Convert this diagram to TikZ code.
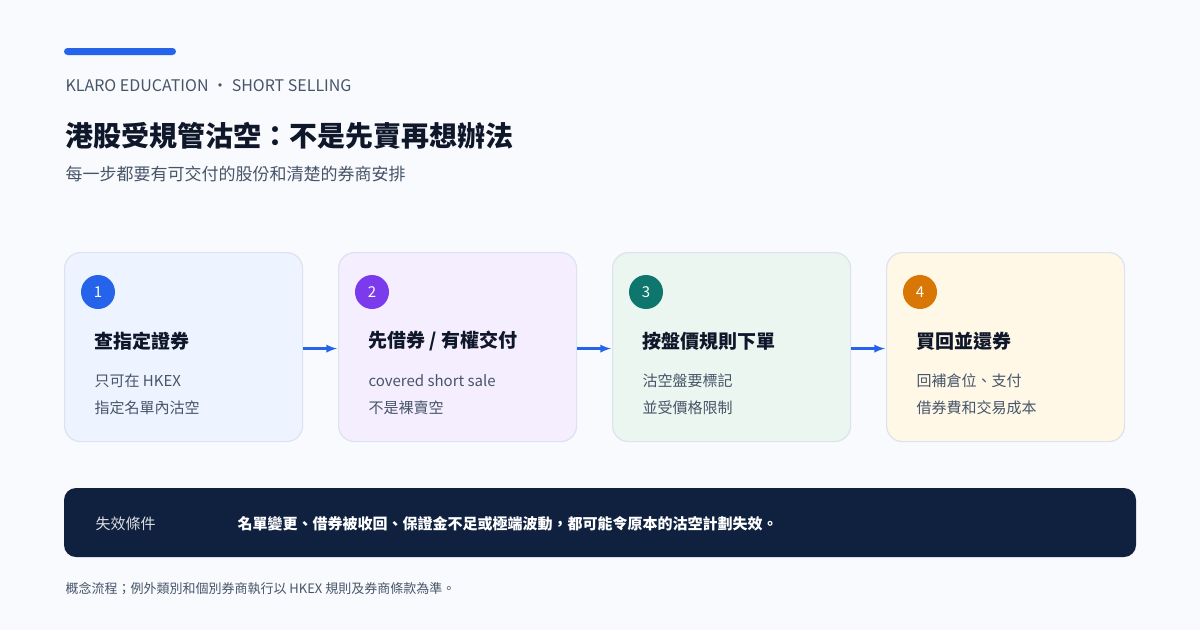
\documentclass[tikz,border=0pt]{standalone}
\usepackage{fontspec}
\setmainfont{Noto Sans CJK TC}
\usetikzlibrary{positioning}
\definecolor{bgpage}{HTML}{F8FAFD}
\definecolor{ink}{HTML}{0F172A}
\definecolor{muted}{HTML}{475569}
\definecolor{accent}{HTML}{2563EB}
\definecolor{cardline}{HTML}{DCE3EE}
\definecolor{fillA}{HTML}{EEF4FF}
\definecolor{fillB}{HTML}{F5EEFE}
\definecolor{fillC}{HTML}{EAF6EF}
\definecolor{fillD}{HTML}{FFF8E7}
\definecolor{dotA}{HTML}{2563EB}
\definecolor{dotB}{HTML}{7C3AED}
\definecolor{dotC}{HTML}{0F766E}
\definecolor{dotD}{HTML}{D97706}
\definecolor{band}{HTML}{10213F}
\tikzset{
  card/.style={draw=cardline, line width=1.2pt, rounded corners=16pt, minimum width=238pt, minimum height=189pt, inner sep=0pt},
  num/.style={circle, minimum size=34pt, inner sep=0pt, text=white, font=\fontsize{15}{15}\selectfont},
  head/.style={anchor=west, text=ink, font=\fontsize{19}{19}\selectfont\bfseries},
  body/.style={anchor=west, text=muted, font=\fontsize{15}{15}\selectfont},
  flowarrow/.style={-latex, accent, line width=2.6pt, shorten >=1pt}
}
\begin{document}
\begin{tikzpicture}[x=1pt,y=-1pt]
  \fill[bgpage] (0,0) rectangle (1200,630);
  \useasboundingbox (0,0) rectangle (1200,630);
  \fill[accent, rounded corners=3.5pt] (64,48) rectangle (176,55);
  \node[anchor=west, text=muted, font=\fontsize{16}{16}\selectfont] (kicker) at (62,86) {KLARO EDUCATION · SHORT SELLING};
  \node[anchor=west, text=ink, font=\fontsize{28}{28}\selectfont\bfseries] (title) at (62,136) {港股受規管沽空：不是先賣再想辦法};
  \node[anchor=west, text=muted, font=\fontsize{17}{17}\selectfont] (subtitle) at (62,174) {每一步都要有可交付的股份和清楚的券商安排};
  % cards
  \foreach \i/\x/\f/\d/\h/\la/\lb in {
      1/64/fillA/dotA/查指定證券/只可在 HKEX/指定名單內沽空,
      2/338/fillB/dotB/{先借券 / 有權交付}/covered short sale/不是裸賣空,
      3/612/fillC/dotC/按盤價規則下單/沽空盤要標記/並受價格限制,
      4/886/fillD/dotD/買回並還券/回補倉位、支付/借券費和交易成本} {
    \node[card, fill=\f, anchor=north west] (card\i) at (\x,252) {};
    \node[num, fill=\d] (num\i) at (\x+34,292) {\i};
    \node[head] (head\i) at (\x+27,341) {\h};
    \node[body] (lineA\i) at (\x+27,381) {\la};
    \node[body] (lineB\i) at (\x+27,408) {\lb};
  }
  \foreach \a/\b in {1/2,2/3,3/4}
    \draw[flowarrow] ([yshift=-1.5pt]card\a.east) -- ([yshift=-1.5pt]card\b.west);
  % failure band
  \fill[band, rounded corners=12pt] (64,488) rectangle (1136,557);
  \node[anchor=west, text=white!85!band, font=\fontsize{15}{15}\selectfont] (fail) at (92,524) {失效條件};
  \node[anchor=west, text=white, font=\fontsize{15}{15}\selectfont\bfseries] (failtext) at (234,524) {名單變更、借券被收回、保證金不足或極端波動，都可能令原本的沽空計劃失效。};
  \node[anchor=west, text=muted, font=\fontsize{13}{13}\selectfont] (foot) at (62,589) {概念流程；例外類別和個別券商執行以 HKEX 規則及券商條款為準。};
\end{tikzpicture}
\end{document}
